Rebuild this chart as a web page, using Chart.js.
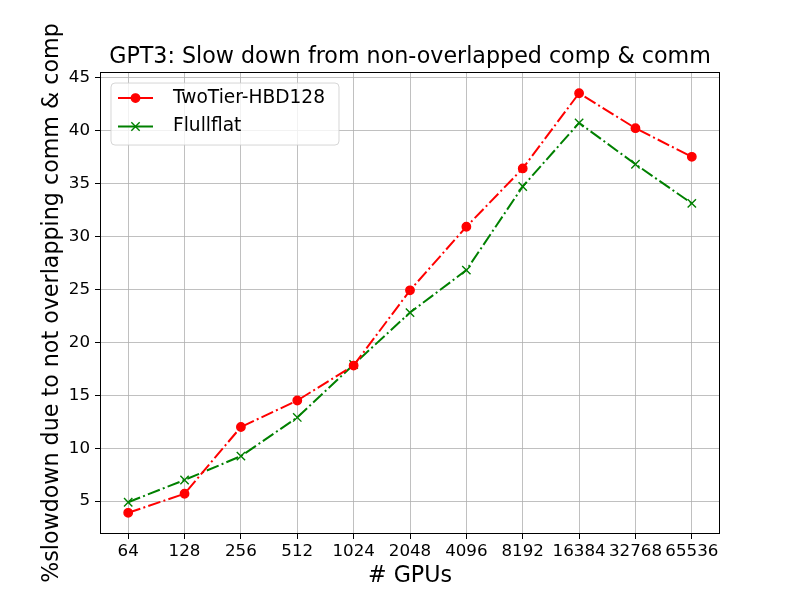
<!DOCTYPE html>
<html lang="en">
<head>
    <meta charset="UTF-8">
    <title>GPT3: Slow down from non-overlapped comp & comm</title>
    <script src="https://cdn.jsdelivr.net/npm/chart.js"></script>
    <style>
        html, body {
            margin: 0;
            padding: 0;
            background: #ffffff;
        }
        #wrap {
            width: 800px;
            height: 600px;
        }
    </style>
</head>
<body>
    <div id="wrap"><canvas id="slowdownChart" width="800" height="600"></canvas></div>

    <script>
        // data
        const gpuCounts = ['64', '128', '256', '512', '1024', '2048', '4096', '8192', '16384', '32768', '65536'];
        const twoTierHbd128 = [3.9, 5.7, 12.0, 14.5, 17.8, 24.9, 30.9, 36.4, 43.5, 40.2, 37.5];
        const fullFlat = [4.9, 7.0, 9.25, 12.9, 17.9, 22.8, 26.8, 34.7, 40.7, 36.8, 33.1];
        const yTicks = [5, 10, 15, 20, 25, 30, 35, 40, 45];

        const FONT = "'DejaVu Sans', sans-serif";
        const dashDot = [12.8, 3.2, 2, 3.2];

        // axes frame + legend inside the plot (matplotlib style)
        const framePlugin = {
            id: 'frameAndLegend',
            afterDraw(chart) {
                const ctx = chart.ctx;
                const a = chart.chartArea;
                ctx.save();

                // spines on all four sides
                ctx.strokeStyle = '#000000';
                ctx.lineWidth = 1;
                ctx.strokeRect(Math.round(a.left) + 0.5, Math.round(a.top) + 0.5,
                    Math.round(a.right - a.left) - 1, Math.round(a.bottom - a.top) - 1);

                // legend box
                const bx = a.left + 11, by = a.top + 11, bw = 228, bh = 62, r = 4;
                ctx.beginPath();
                ctx.moveTo(bx + r, by);
                ctx.arcTo(bx + bw, by, bx + bw, by + bh, r);
                ctx.arcTo(bx + bw, by + bh, bx, by + bh, r);
                ctx.arcTo(bx, by + bh, bx, by, r);
                ctx.arcTo(bx, by, bx + bw, by, r);
                ctx.closePath();
                ctx.fillStyle = 'rgba(255,255,255,0.8)';
                ctx.fill();
                ctx.strokeStyle = 'rgba(204,204,204,0.8)';
                ctx.lineWidth = 1;
                ctx.stroke();

                chart.data.datasets.forEach((ds, i) => {
                    const cy = by + 15 + i * 28.5;
                    const x0 = bx + 7, x1 = bx + 42, mx = (x0 + x1) / 2;
                    ctx.strokeStyle = ds.borderColor;
                    ctx.lineWidth = ds.borderWidth;
                    ctx.setLineDash([]);
                    ctx.beginPath();
                    ctx.moveTo(x0, cy);
                    ctx.lineTo(x1, cy);
                    ctx.stroke();
                    ctx.fillStyle = ds.pointBackgroundColor;
                    ctx.lineWidth = ds.pointBorderWidth;
                    ctx.beginPath();
                    if (ds.pointStyle === 'circle') {
                        ctx.arc(mx, cy, ds.pointRadius, 0, Math.PI * 2);
                        ctx.fill();
                        ctx.stroke();
                    } else {
                        const h = ds.pointRadius * Math.SQRT1_2;
                        ctx.moveTo(mx - h, cy - h);
                        ctx.lineTo(mx + h, cy + h);
                        ctx.moveTo(mx - h, cy + h);
                        ctx.lineTo(mx + h, cy - h);
                        ctx.stroke();
                    }
                    ctx.fillStyle = '#000000';
                    ctx.font = '18.6px ' + FONT;
                    ctx.textAlign = 'left';
                    ctx.textBaseline = 'middle';
                    ctx.fillText(ds.label, bx + 62, cy);
                });
                ctx.restore();
            }
        };

        const ctx = document.getElementById('slowdownChart').getContext('2d');
        new Chart(ctx, {
            type: 'line',
            data: {
                labels: gpuCounts,
                datasets: [
                    {
                        label: 'TwoTier-HBD128',
                        data: twoTierHbd128,
                        borderColor: '#ff0000',
                        backgroundColor: '#ff0000',
                        pointBackgroundColor: '#ff0000',
                        borderWidth: 2,
                        borderDash: dashDot,
                        pointStyle: 'circle',
                        pointRadius: 4.2,
                        pointBorderWidth: 1.4,
                        tension: 0,
                        fill: false
                    },
                    {
                        label: 'Flullflat',
                        data: fullFlat,
                        borderColor: '#008000',
                        backgroundColor: '#008000',
                        pointBackgroundColor: '#008000',
                        borderWidth: 2,
                        borderDash: dashDot,
                        pointStyle: 'crossRot',
                        pointRadius: 5.9,
                        pointBorderWidth: 1.4,
                        tension: 0,
                        fill: false
                    }
                ]
            },
            options: {
                responsive: false,
                animation: false,
                events: [],
                layout: {
                    padding: { left: 0, right: 80, top: 0, bottom: 0 }
                },
                plugins: {
                    legend: { display: false },
                    tooltip: { enabled: false },
                    title: {
                        display: true,
                        fullSize: false,
                        text: 'GPT3: Slow down from non-overlapped comp & comm',
                        color: '#000000',
                        font: { family: FONT, size: 22.2, weight: 'normal', lineHeight: 1.2 },
                        padding: { top: 43.7, bottom: 1.7 }
                    }
                },
                scales: {
                    x: {
                        type: 'category',
                        offset: true,
                        afterFit(scale) { scale.height = 66; },
                        grid: {
                            display: true,
                            offset: false,
                            color: '#b0b0b0',
                            lineWidth: 0.8,
                            tickLength: 5,
                            tickColor: '#000000',
                            tickWidth: 1
                        },
                        border: { display: false },
                        ticks: {
                            autoSkip: false,
                            maxRotation: 0,
                            color: '#000000',
                            padding: 3,
                            font: { family: FONT, size: 16.7 }
                        },
                        title: {
                            display: true,
                            text: '# GPUs',
                            color: '#000000',
                            font: { family: FONT, size: 22.2, lineHeight: 1.2 },
                            padding: { top: 0, bottom: 10.7 }
                        }
                    },
                    y: {
                        type: 'linear',
                        min: 1.9,
                        max: 45.5,
                        afterFit(scale) { scale.width = 100; },
                        afterBuildTicks(scale) {
                            scale.ticks = yTicks.map(v => ({ value: v }));
                        },
                        grid: {
                            color: '#b0b0b0',
                            lineWidth: 0.8,
                            tickLength: 5,
                            tickColor: '#000000',
                            tickWidth: 1
                        },
                        border: { display: false },
                        ticks: {
                            color: '#000000',
                            padding: 5,
                            font: { family: FONT, size: 16.7 }
                        },
                        title: {
                            display: true,
                            text: '%slowdown due to not overlapping comm & comp',
                            color: '#000000',
                            font: { family: FONT, size: 22.2, lineHeight: 1.2 },
                            padding: { top: 38.7, bottom: 0 }
                        }
                    }
                }
            },
            plugins: [framePlugin]
        });
    </script>
</body>
</html>
